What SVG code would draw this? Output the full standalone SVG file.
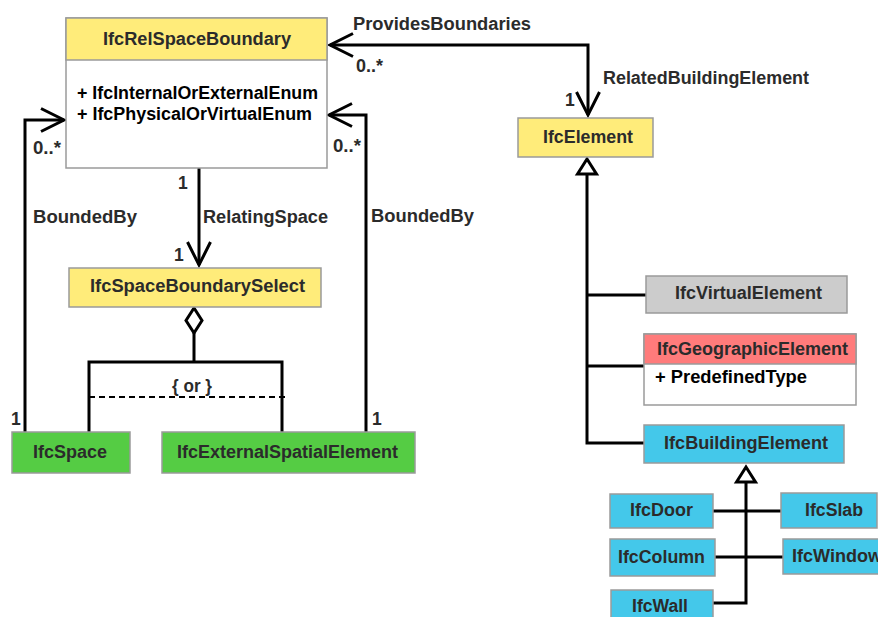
<svg xmlns="http://www.w3.org/2000/svg" width="878" height="617" viewBox="0 0 878 617">
<style>
  text { font-family: "Liberation Sans", Arial, sans-serif; font-weight: bold; font-size: 17.5px; fill: #2b2b2b; }
  .attr { fill: #000; }
  .box { stroke: #9a9a9a; stroke-width: 1.5; }
  .yellow { fill: #FFEC7A; }
  .white { fill: #FFFFFF; }
  .green { fill: #55CC44; }
  .blue { fill: #44C8EA; }
  .gray { fill: #CCCCCC; }
  .red { fill: #FF7B7B; }
  .conn { fill: none; stroke: #000; stroke-width: 3; }
  .dash { fill: none; stroke: #000; stroke-width: 2; stroke-dasharray: 6 4; }
</style>
<defs>
  <marker id="open" markerUnits="userSpaceOnUse" markerWidth="30" markerHeight="30" viewBox="-26 -15 30 30" refX="0" refY="0" orient="auto-start-reverse" overflow="visible">
    <path d="M-23 -11.5 L0 0 L-23 11.5" fill="none" stroke="#000" stroke-width="3"/>
  </marker>
  <marker id="tri" markerUnits="userSpaceOnUse" markerWidth="20" markerHeight="24" viewBox="0 -12 18 24" refX="0" refY="0" orient="auto" overflow="visible">
    <path d="M0 -9.5 L15 0 L0 9.5 Z" fill="#fff" stroke="#000" stroke-width="3" stroke-linejoin="miter"/>
  </marker>
</defs>

<g id="connectors">
  <path class="conn" d="M588 115 V45 H330" marker-start="url(#open)" marker-end="url(#open)"/>
  <path class="conn" d="M25 432 V120 H64" marker-end="url(#open)"/>
  <path class="conn" d="M366 432 V115 H329" marker-end="url(#open)"/>
  <path class="conn" d="M199 168 V265" marker-end="url(#open)"/>
  <path class="conn" d="M194 333 V362 M89 432 V362 H282 V432"/>
  <polygon points="194,308 186,320.5 194,333 202,320.5" fill="#fff" stroke="#000" stroke-width="3"/>
  <path class="dash" d="M89 397 H286"/>
  <path class="conn" d="M644 443 H587 V174" marker-end="url(#tri)"/>
  <path class="conn" d="M587 295 H646 M587 366 H644"/>
  <path class="conn" d="M713 603 H746 V482" marker-end="url(#tri)"/>
  <path class="conn" d="M713 511 H781 M715 557 H783"/>
</g>

<g id="labels">
  <text x="353" y="30" textLength="178" lengthAdjust="spacingAndGlyphs">ProvidesBoundaries</text>
  <text x="356" y="72" textLength="27" lengthAdjust="spacingAndGlyphs">0..*</text>
  <text x="603" y="84" textLength="206" lengthAdjust="spacingAndGlyphs">RelatedBuildingElement</text>
  <text x="565" y="106">1</text>
  <text x="33" y="154" textLength="28" lengthAdjust="spacingAndGlyphs">0..*</text>
  <text x="333" y="152" textLength="28" lengthAdjust="spacingAndGlyphs">0..*</text>
  <text x="178" y="189">1</text>
  <text x="33" y="223" textLength="104" lengthAdjust="spacingAndGlyphs">BoundedBy</text>
  <text x="203" y="223" textLength="125" lengthAdjust="spacingAndGlyphs">RelatingSpace</text>
  <text x="371" y="222" textLength="103" lengthAdjust="spacingAndGlyphs">BoundedBy</text>
  <text x="174" y="261">1</text>
  <text x="172" y="392" textLength="40" lengthAdjust="spacingAndGlyphs">{ or }</text>
  <text x="11" y="425">1</text>
  <text x="372" y="425">1</text>
</g>

<g id="IfcRelSpaceBoundary">
  <rect class="box white" x="66" y="18" width="261" height="150"/>
  <rect class="box yellow" x="66" y="18" width="261" height="42"/>
  <text x="103" y="45" textLength="188" lengthAdjust="spacingAndGlyphs">IfcRelSpaceBoundary</text>
  <text class="attr" x="77" y="99" textLength="241" lengthAdjust="spacingAndGlyphs">+ IfcInternalOrExternalEnum</text>
  <text class="attr" x="77" y="120" textLength="235" lengthAdjust="spacingAndGlyphs">+ IfcPhysicalOrVirtualEnum</text>
</g>

<g id="IfcElement">
  <rect class="box yellow" x="518" y="118" width="135" height="39"/>
  <text x="543" y="143" textLength="90" lengthAdjust="spacingAndGlyphs">IfcElement</text>
</g>

<g id="IfcSpaceBoundarySelect">
  <rect class="box yellow" x="69" y="268" width="252" height="39"/>
  <text x="90" y="292" textLength="215" lengthAdjust="spacingAndGlyphs">IfcSpaceBoundarySelect</text>
</g>

<g id="IfcSpace">
  <rect class="box green" x="12" y="432" width="118" height="41"/>
  <text x="33" y="458" textLength="74" lengthAdjust="spacingAndGlyphs">IfcSpace</text>
</g>

<g id="IfcExternalSpatialElement">
  <rect class="box green" x="162" y="432" width="253" height="41"/>
  <text x="177" y="458" textLength="221" lengthAdjust="spacingAndGlyphs">IfcExternalSpatialElement</text>
</g>

<g id="IfcVirtualElement">
  <rect class="box gray" x="646" y="276" width="201" height="37"/>
  <text x="675" y="299" textLength="147" lengthAdjust="spacingAndGlyphs">IfcVirtualElement</text>
</g>

<g id="IfcGeographicElement">
  <rect class="box white" x="644" y="334" width="212" height="71"/>
  <rect class="box red" x="644" y="334" width="212" height="30"/>
  <text x="657" y="355" textLength="191" lengthAdjust="spacingAndGlyphs">IfcGeographicElement</text>
  <text class="attr" x="655" y="383" textLength="152" lengthAdjust="spacingAndGlyphs">+ PredefinedType</text>
</g>

<g id="IfcBuildingElement">
  <rect class="box blue" x="644" y="425" width="200" height="38"/>
  <text x="664" y="449" textLength="164" lengthAdjust="spacingAndGlyphs">IfcBuildingElement</text>
</g>

<g id="IfcDoor">
  <rect class="box blue" x="610" y="494" width="103" height="34"/>
  <text x="630" y="516" textLength="63" lengthAdjust="spacingAndGlyphs">IfcDoor</text>
</g>

<g id="IfcColumn">
  <rect class="box blue" x="610" y="539" width="105" height="37"/>
  <text x="618" y="563" textLength="87" lengthAdjust="spacingAndGlyphs">IfcColumn</text>
</g>

<g id="IfcWall">
  <rect class="box blue" x="611" y="590" width="102" height="30"/>
  <text x="632" y="612" textLength="56" lengthAdjust="spacingAndGlyphs">IfcWall</text>
</g>

<g id="IfcSlab">
  <rect class="box blue" x="781" y="493" width="96" height="35"/>
  <text x="805" y="516" textLength="58" lengthAdjust="spacingAndGlyphs">IfcSlab</text>
</g>

<g id="IfcWindow">
  <rect class="box blue" x="783" y="539" width="100" height="35"/>
  <text x="792" y="562" textLength="90" lengthAdjust="spacingAndGlyphs">IfcWindow</text>
</g>
</svg>
